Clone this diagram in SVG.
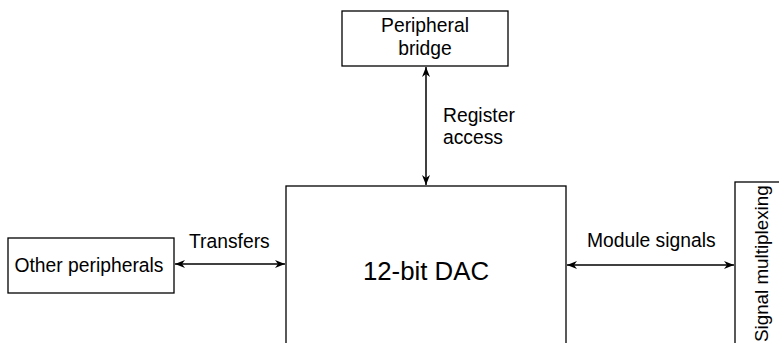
<svg xmlns="http://www.w3.org/2000/svg" width="779" height="343" viewBox="0 0 779 343">
<style>
.box{fill:#fff;stroke:#000;stroke-width:1.3}
.t{font-family:"Liberation Sans",Arial,sans-serif;font-size:19.3px;fill:#000}
.c{stroke:#000;stroke-width:1.5;fill:none}
</style>
<defs>
<marker id="ah" viewBox="0 0 10 10" refX="10" refY="5" markerWidth="10" markerHeight="10" markerUnits="userSpaceOnUse" orient="auto-start-reverse">
<path d="M0,1 L10,5 L0,9 L3,5 Z" fill="#000"/>
</marker>
</defs>
<rect width="779" height="343" fill="#fff"/>
<g id="bridge">
<rect class="box" x="342" y="11" width="166" height="55"/>
<text class="t" x="425" y="32" text-anchor="middle">Peripheral</text>
<text class="t" x="425" y="55" text-anchor="middle">bridge</text>
</g>
<g id="dac">
<rect class="box" x="286" y="186" width="280" height="170"/>
<text class="t" x="426" y="280" text-anchor="middle" style="font-size:25.8px">12-bit DAC</text>
</g>
<g id="other">
<rect class="box" x="8" y="238" width="166" height="55"/>
<text class="t" x="89" y="272" text-anchor="middle">Other peripherals</text>
</g>
<g id="mux">
<rect class="box" x="735" y="182" width="60" height="175"/>
<text class="t" transform="translate(768,342) rotate(-90)" style="font-size:18.8px">Signal multiplexing</text>
</g>
<g id="connectors">
<line class="c" x1="426" y1="67" x2="426" y2="185" marker-start="url(#ah)" marker-end="url(#ah)"/>
<line class="c" x1="175" y1="264" x2="285" y2="264" marker-start="url(#ah)" marker-end="url(#ah)"/>
<line class="c" x1="567" y1="265" x2="734" y2="265" marker-start="url(#ah)" marker-end="url(#ah)"/>
<text class="t" x="443" y="122">Register</text>
<text class="t" x="443" y="144">access</text>
<text class="t" x="189" y="248">Transfers</text>
<text class="t" x="587" y="247">Module signals</text>
</g>
</svg>
